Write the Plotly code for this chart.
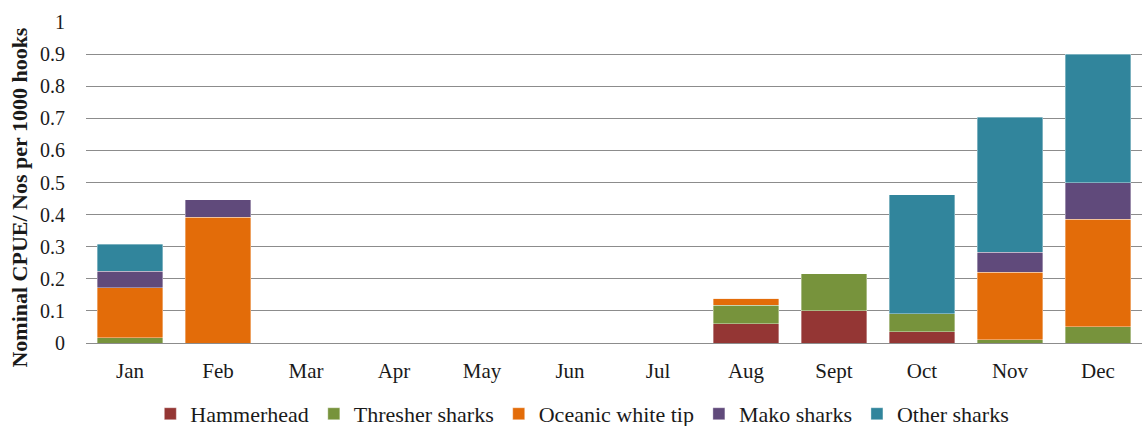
import plotly.graph_objects as go

months = ["Jan", "Feb", "Mar", "Apr", "May", "Jun", "Jul", "Aug", "Sept", "Oct", "Nov", "Dec"]

hammerhead = [0, 0, 0, 0, 0, 0, 0, 0.060, 0.100, 0.035, 0, 0]
thresher = [0.017, 0, 0, 0, 0, 0, 0, 0.058, 0.115, 0.056, 0.010, 0.050]
oceanic_white_tip = [0.155, 0.391, 0, 0, 0, 0, 0, 0.022, 0, 0, 0.211, 0.335]
mako = [0.052, 0.055, 0, 0, 0, 0, 0, 0, 0, 0, 0.062, 0.114]
other = [0.083, 0, 0, 0, 0, 0, 0, 0, 0, 0.371, 0.420, 0.400]

y_ticks = [0, 0.1, 0.2, 0.3, 0.4, 0.5, 0.6, 0.7, 0.8, 0.9, 1]
y_tick_text = ["0", "0.1", "0.2", "0.3", "0.4", "0.5", "0.6", "0.7", "0.8", "0.9", "1"]

series = [
    ("Hammerhead", hammerhead, "#943634"),
    ("Thresher sharks", thresher, "#77933C"),
    ("Oceanic white tip", oceanic_white_tip, "#E36C09"),
    ("Mako sharks", mako, "#604A7B"),
    ("Other sharks", other, "#31859C"),
]

font_family = "Liberation Serif, DejaVu Serif, serif"
text_color = "#1a1a1a"

fig = go.Figure()
for name, values, color in series:
    fig.add_trace(go.Bar(
        x=months, y=values, name=name,
        marker=dict(color=color, line=dict(color="rgba(255,255,255,0.6)", width=0.6)),
    ))

fig.update_layout(
    barmode="stack",
    bargap=0.26,
    width=1144, height=426,
    margin=dict(l=86, r=2, t=22, b=83, autoexpand=False),
    plot_bgcolor="white", paper_bgcolor="white",
    font=dict(family=font_family, size=20, color=text_color),
    legend=dict(
        orientation="h", x=0.47, xanchor="center", y=-0.221, yanchor="middle",
        font=dict(family=font_family, size=22, color=text_color),
        itemwidth=30, traceorder="normal",
    ),
    showlegend=True,
)
fig.update_xaxes(
    showgrid=False, showline=True, linecolor="#8c8c8c", linewidth=1,
    ticks="", tickfont=dict(size=21), ticklabelstandoff=9,
)
fig.update_yaxes(
    range=[0, 1], tickvals=y_ticks, ticktext=y_tick_text,
    showgrid=True, gridcolor="#8c8c8c", gridwidth=1,
    zeroline=False, showline=False, ticks="",
    tickfont=dict(size=20), ticklabelstandoff=20,
)

# Vertical axis title placed as a rotated annotation beside the tick labels
fig.add_annotation(
    text="<b>Nominal CPUE/ Nos per 1000 hooks</b>",
    xref="paper", yref="paper", x=-0.0625, y=0.453,
    xanchor="center", yanchor="middle", textangle=-90, showarrow=False,
    font=dict(family=font_family, size=22, color=text_color),
)

fig.write_html("out.html")
